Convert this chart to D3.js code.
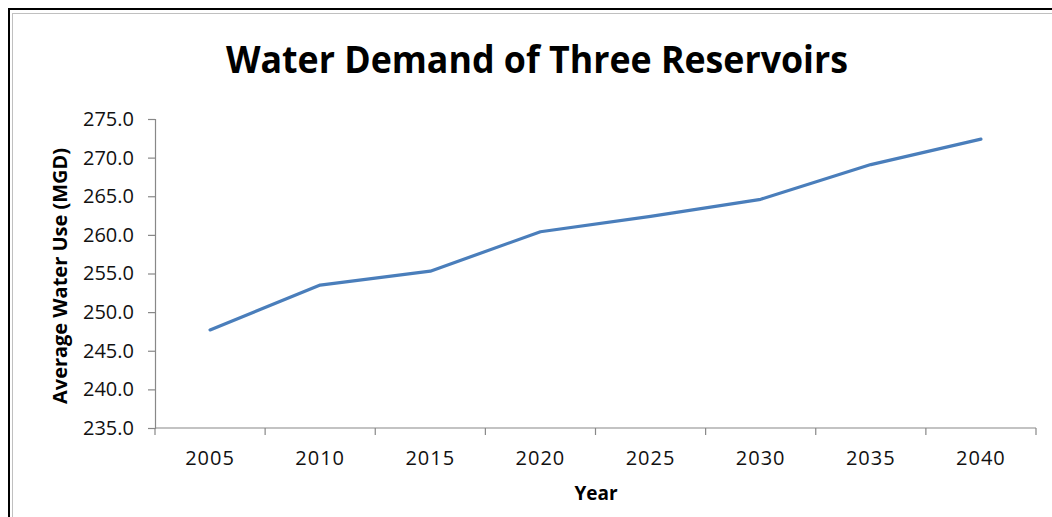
<!DOCTYPE html>
<html><head><meta charset="utf-8">
<script src="https://cdn.jsdelivr.net/npm/d3@7"></script>
<style>body{margin:0;background:#fff;} svg{display:block;}</style>
</head><body>
<svg id="c" width="1052" height="517"></svg>
<script>
const years = ["2005","2010","2015","2020","2025","2030","2035","2040"];
const demand = [247.7, 253.5, 255.3, 260.4, 262.4, 264.6, 269.1, 272.4];
const yTicks = [235,240,245,250,255,260,265,270,275];
const title = "Water Demand of Three Reservoirs";
const yLabel = "Average Water Use (MGD)";
const xLabel = "Year";

(function(){
const svg = d3.select("#c");
const font = "'Open Sans', 'DejaVu Sans', sans-serif";
svg.append("rect").attr("x",0).attr("y",0).attr("width",1052).attr("height",517).attr("fill","#fff");
// frame
svg.append("rect").attr("x",9).attr("y",9).attr("width",1100).attr("height",600)
  .attr("fill","none").attr("stroke","#000").attr("stroke-width",2);
svg.append("rect").attr("x",12.5).attr("y",13.5).attr("width",1100).attr("height",600)
  .attr("fill","none").attr("stroke","#c0c0c0").attr("stroke-width",1);

const pL=155, pR=1036, pT=119, pB=428;
const x = d3.scaleBand().domain(years).range([pL,pR]);
const y = d3.scaleLinear().domain([235,275]).range([pB,pT]);

const gy = svg.append("g").attr("transform",`translate(${pL},0)`)
  .call(d3.axisLeft(y).tickValues(yTicks).tickFormat(d3.format(".1f")).tickSize(7).tickPadding(14));
const gx = svg.append("g").attr("transform",`translate(0,${pB})`)
  .call(d3.axisBottom(x).tickSize(0).tickPadding(23));
const bounds = years.map(d=>x(d)).concat([pR]);
gx.selectAll(".bt").data(bounds).enter().append("line").attr("class","bt")
  .attr("x1",d=>d).attr("x2",d=>d).attr("y1",0).attr("y2",7);
[gy,gx].forEach(g=>{
  g.selectAll("path,line").attr("stroke","#888").attr("stroke-width",1.2);
  g.selectAll("text").attr("fill","#111").style("font-family",font).style("font-size","20px");
});
gx.selectAll(".tick text").style("letter-spacing","1px");
gx.select(".domain").attr("d",`M${pL},0H${pR}`);

const line = d3.line().x((d,i)=>x(years[i])+x.bandwidth()/2).y(d=>y(d));
svg.append("path").datum(demand).attr("d",line).attr("fill","none")
  .attr("stroke","#4a7ebb").attr("stroke-width",3.2).attr("stroke-linejoin","round").attr("stroke-linecap","round");

svg.append("text").attr("x",226).attr("y",73).attr("textLength",622).attr("lengthAdjust","spacingAndGlyphs")
  .style("font-family",font).style("font-weight","bold").style("font-size","38px").attr("fill","#000").text(title);
svg.append("text").attr("transform","translate(67,276) rotate(-90)").attr("text-anchor","middle")
  .attr("textLength",256).attr("lengthAdjust","spacingAndGlyphs")
  .style("font-family",font).style("font-weight","bold").style("font-size","20px").attr("fill","#000").text(yLabel);
svg.append("text").attr("x",596).attr("y",500).attr("text-anchor","middle")
  .style("font-family",font).style("font-weight","bold").style("font-size","19px").attr("fill","#000").text(xLabel);
})();
</script>
</body></html>
